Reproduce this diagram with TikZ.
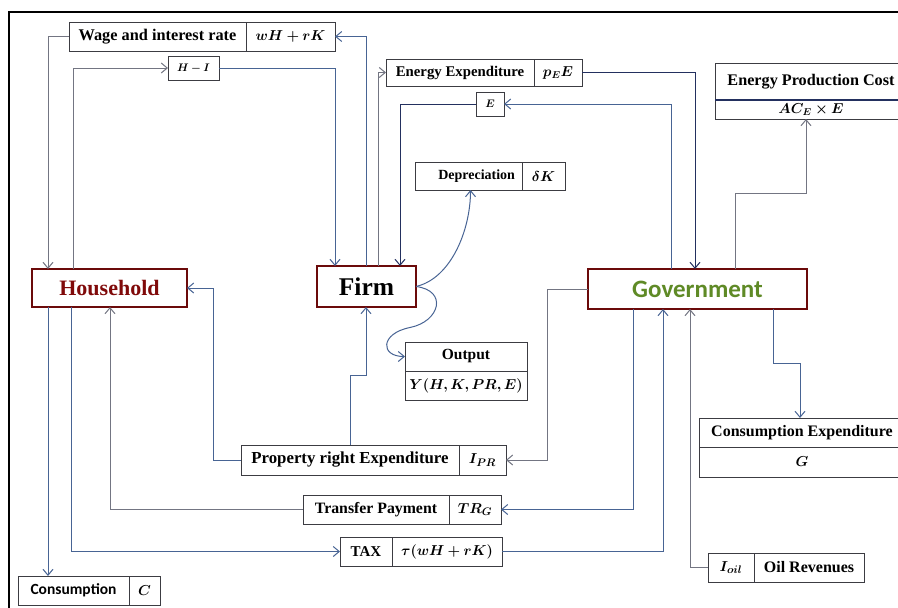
\documentclass[tikz,border=0pt]{standalone}
\usepackage{bm}
\usepackage{fontspec}
\setmainfont{Liberation Serif}
\newfontfamily\carlfont{Carlito}
\usetikzlibrary{arrows.meta}
\definecolor{boxgray}{RGB}{60,60,66}
\definecolor{maroonb}{RGB}{107,10,10}
\definecolor{hhtext}{RGB}{128,10,10}
\definecolor{govgreen}{RGB}{95,138,38}
\definecolor{lineblue}{RGB}{72,100,148}
\definecolor{linegray}{RGB}{115,117,130}
\definecolor{navyline}{RGB}{35,48,95}
\tikzset{
  cellbox/.style={draw=boxgray,line width=0.9pt,inner sep=0pt,outer sep=0pt,fill=white,anchor=north west},
  agentbox/.style={draw=maroonb,line width=2.6pt},
  tf/.style={font=\fontsize{#1}{#1}\selectfont\bfseries},
  sf/.style={font=\fontsize{#1}{#1}\selectfont\carlfont\bfseries},
  arr/.style={draw=lineblue,line width=1pt,-{Straight Barb[length=6pt,width=10pt,line width=1pt]}},
  arrg/.style={arr,draw=linegray}
}
\begin{document}
\begin{tikzpicture}[x=1pt,y=-1pt]
\useasboundingbox (0,0) rectangle (898,608);
\clip (0,0) rectangle (898,608);
\draw[line width=1.8pt,black] (9,612) -- (9,12) -- (905,12);
\node[cellbox,minimum width=177pt,minimum height=29pt,tf=16.3] (wageL) at (69,22) {Wage and interest rate};
\node[cellbox,minimum width=89pt,minimum height=29pt,tf=15] (wageR) at (246,22) {$\bm{wH+rK}$};
\node[cellbox,minimum width=51pt,minimum height=24pt,tf=10.5] (hi) at (168,56) {$\bm{H-I}$};
\node[cellbox,minimum width=148pt,minimum height=27pt,tf=14.8] (enL) at (386,59) {Energy Expenditure};
\node[cellbox,minimum width=48pt,minimum height=27pt,tf=14] (enR) at (534,59) {$\bm{p_EE}$};
\node[cellbox,minimum width=28pt,minimum height=24pt,tf=10.5] (eb) at (476,92) {$\bm{E}$};
\node[cellbox,minimum width=107pt,minimum height=28pt,tf=14,text width=93pt,align=right] (depL) at (415,162) {Depreciation};
\node[cellbox,minimum width=43pt,minimum height=28pt,tf=14] (depR) at (522,162) {$\bm{\delta K}$};
\node[cellbox,minimum width=192pt,minimum height=37pt,tf=16.2] (epcT) at (715,63) {Energy Production Cost};
\node[cellbox,minimum width=192pt,minimum height=19pt,tf=14] (epcB) at (715,100) {$\bm{AC_E\times E}$};
\draw[navyline,line width=1.6pt] (epcT.south west) -- (epcT.south east);
\node[cellbox,agentbox,minimum width=155pt,minimum height=38pt,tf=22,text=hhtext] (hh) at (32,269) {Household};
\node[cellbox,agentbox,minimum width=99pt,minimum height=41pt,tf=25.5] (firm) at (317,266) {Firm};
\node[cellbox,agentbox,minimum width=219pt,minimum height=40pt,sf=25,text=govgreen] (gov) at (588,269) {Government};
\node[cellbox,minimum width=122pt,minimum height=29pt,tf=15.5] (outT) at (405,342) {Output};
\node[cellbox,minimum width=122pt,minimum height=29pt,tf=15] (outB) at (405,371) {$\bm{Y(H,K,PR,E)}$};
\node[cellbox,minimum width=206pt,minimum height=29pt,tf=16] (ceT) at (699,418) {Consumption Expenditure};
\node[cellbox,minimum width=206pt,minimum height=30pt,tf=15] (ceB) at (699,447) {$\bm{G}$};
\node[cellbox,minimum width=218pt,minimum height=30pt,tf=16.8] (prL) at (241,445) {Property right Expenditure};
\node[cellbox,minimum width=47pt,minimum height=30pt,tf=15] (prR) at (459,445) {$\bm{I_{PR}}$};
\node[cellbox,minimum width=146pt,minimum height=29pt,tf=15.8] (trL) at (303,495) {Transfer Payment};
\node[cellbox,minimum width=52pt,minimum height=29pt,tf=15] (trR) at (449,495) {$\bm{TR_G}$};
\node[cellbox,minimum width=52pt,minimum height=29pt,tf=15] (taxL) at (340,537) {TAX};
\node[cellbox,minimum width=110pt,minimum height=29pt,tf=15] (taxR) at (392,537) {$\bm{\tau(wH+rK)}$};
\node[cellbox,minimum width=46pt,minimum height=29pt,tf=15] (oilL) at (708,553) {$\bm{I_{oil}}$};
\node[cellbox,minimum width=110pt,minimum height=29pt,tf=16] (oilR) at (754,553) {Oil Revenues};
\node[cellbox,minimum width=111pt,minimum height=29pt,sf=15.5] (consL) at (18,576) {Consumption};
\node[cellbox,minimum width=31pt,minimum height=29pt,tf=15] (consR) at (129,576) {$\bm{C}$};
% connectors
\draw[arrg] ([xshift=41pt]hh.north west) |- (hi.west);
\draw[arr] (hi.east) -| ([xshift=18pt]firm.north west);
\draw[arr] ([xshift=49pt]firm.north west) |- (wageR.east);
\draw[arrg] (wageL.west) -| ([xshift=16pt]hh.north west);
\draw[arrg] ([xshift=61pt]firm.north west) |- (enL.west);
\draw[arr,draw=navyline] (enR.east) -| ([xshift=107pt]gov.north west);
\draw[arr] ([xshift=83pt]gov.north west) |- (eb.east);
\draw[arr,draw=navyline] (eb.west) -| ([xshift=83pt]firm.north west);
\draw[arrg] ([xshift=147pt]gov.north west) -- ++(0,-76) -| ([xshift=-5pt]epcB.south);
\draw[arr] (firm.east) .. controls +(35,-8) and +(0,40) .. ([xshift=2pt]depL.south);
\draw[arr] (firm.east) .. controls +(32,4) and +(30,-6) .. ++(-6,41) .. controls +(-30,6) and +(-25,0) .. (outT.west);
\draw[arr] ([xshift=185pt]gov.south west) -- ++(0,54) -| ([xshift=-2pt]ceT.north);
\draw[arrg] (gov.west) -- ++(-41,0) |- (prR.east);
\draw[arr] (prL.west) -- ++(-28,0) |- (hh.east);
\draw[arr] ([xshift=109pt]prL.north west) -- ++(0,-70) -| ([xshift=49pt]firm.south west);
\draw[arr] ([xshift=45pt]gov.south west) |- (trR.east);
\draw[arrg] (trL.west) -| ([xshift=78pt]hh.south west);
\draw[arr] ([xshift=39pt]hh.south west) |- (taxL.west);
\draw[arr] (taxR.east) -| ([xshift=75pt]gov.south west);
\draw[arrg] (oilL.west) -| ([xshift=102pt]gov.south west);
\draw[arr] ([xshift=16pt]hh.south west) -- ([xshift=30pt]consL.north west);
\end{tikzpicture}
\end{document}
